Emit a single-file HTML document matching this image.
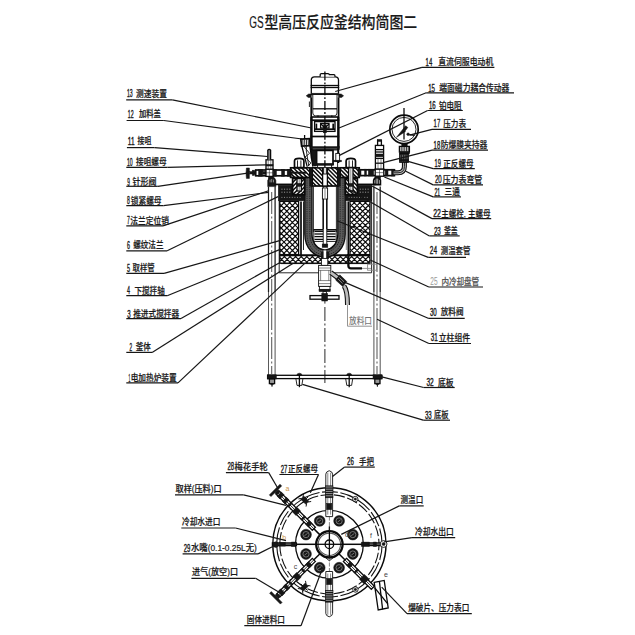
<!DOCTYPE html>
<html lang="zh-CN">
<head>
<meta charset="utf-8">
<title>GS型高压反应釜结构简图二</title>
<style>
html,body{margin:0;padding:0;background:#fff;}
body{width:635px;height:635px;overflow:hidden;}
svg{display:block;}
text{font-family:"Liberation Sans","Noto Sans CJK SC",sans-serif;fill:#222;font-weight:500;}
.tt{fill:#1a1a1a;stroke:#1a1a1a;stroke-width:.18;}
.tx{fill:#1a1a1a;stroke:#1a1a1a;stroke-width:.22;}
.tn{fill:#1a1a1a;stroke:#1a1a1a;stroke-width:.4;}
.sm{fill:#c9934a;}
.sm2{fill:#444;}
.l{stroke:#111;stroke-width:.9;fill:none;}
.t{stroke:#222;stroke-width:.55;fill:none;}
.b{stroke:#0a0a0a;stroke-width:1.3;fill:none;}
.bb{stroke:#0a0a0a;stroke-width:1.7;fill:none;}
.b3{stroke:#0a0a0a;stroke-width:2.1;fill:none;}
.b4{stroke:#0a0a0a;stroke-width:2.3;fill:none;}
.b2{stroke:#0a0a0a;stroke-width:1.5;fill:none;}
.k{stroke:#111;stroke-width:.5;fill:#161616;}
.g{stroke:#9a9a9a;stroke-width:.7;fill:none;}
.g2{stroke:#555;stroke-width:1.1;fill:none;}
.l2{stroke:#111;stroke-width:1.1;fill:none;}
.w{stroke:#eee;stroke-width:.6;fill:none;}
.h{stroke:#0c0c0c;stroke-width:1.5;fill:none;}
.xh{stroke:#0c0c0c;stroke-width:1.2;fill:none;}
.p{stroke:#5a5a5a;stroke-width:1.05;fill:none;}
.pd{stroke:#1c1c1c;stroke-width:1.25;fill:none;}
.ld{stroke:#161616;stroke-width:1.2;fill:none;}
.ldg{stroke:#888;stroke-width:.9;fill:none;}
.vw{stroke:#5a5a5a;stroke-width:7.2;fill:none;stroke-linecap:butt;}
.vwd{stroke:#222;stroke-width:.9;fill:none;stroke-dasharray:1.3 .9;}
.vwl{stroke:#8a8a8a;stroke-width:.7;fill:none;stroke-dasharray:1.2 1;}
.w2{stroke:#bbb;stroke-width:.7;fill:none;}
.w3{stroke:none;fill:#fff;}
.pipeo{stroke:#111;stroke-width:5;fill:none;}
.pipei{stroke:#bdbdbd;stroke-width:2.8;fill:none;}
</style>
</head>
<body>
<svg width="635" height="635" viewBox="0 0 635 635">
<rect x="0" y="0" width="635" height="635" fill="#fff"/>
<text class="tt" x="249.2" y="28.4" font-size="16" textLength="14.4" lengthAdjust="spacingAndGlyphs" >GS</text>
<text class="tt" x="264.4" y="28.4" font-size="16" textLength="152.8" lengthAdjust="spacingAndGlyphs" >型高压反应釜结构简图二</text>
<line class="pd" x1="268.5" y1="186.5" x2="268.5" y2="292.0" />
<line class="pd" x1="275.1" y1="186.5" x2="275.1" y2="292.0" />
<line class="p" x1="268.5" y1="292.0" x2="268.5" y2="375.2" />
<line class="p" x1="275.1" y1="292.0" x2="275.1" y2="375.2" />
<line class="p" x1="271.7" y1="192.0" x2="271.7" y2="374.0" stroke-dasharray="22 2.5 2 2.5"/>
<path class="k" d="M267.7 186.6 L267.7 180.6 Q268.5 177 271.7 176.8 Q275.1 177 275.90000000000003 180.6 L275.90000000000003 186.6 Z" />
<line class="w2" x1="270.1" y1="179.6" x2="270.1" y2="182.4" />
<line class="w2" x1="271.7" y1="179.0" x2="271.7" y2="182.4" />
<line class="w2" x1="273.5" y1="179.6" x2="273.5" y2="182.4" />
<line class="pd" x1="373.9" y1="186.5" x2="373.9" y2="292.0" />
<line class="pd" x1="380.2" y1="186.5" x2="380.2" y2="292.0" />
<line class="p" x1="373.9" y1="292.0" x2="373.9" y2="375.2" />
<line class="p" x1="380.2" y1="292.0" x2="380.2" y2="375.2" />
<line class="p" x1="377.0" y1="192.0" x2="377.0" y2="374.0" stroke-dasharray="22 2.5 2 2.5"/>
<path class="bb" d="M373.7 184.6 L373.7 180.4 Q374.29999999999995 177.6 377.0 177.4 Q379.8 177.6 380.4 180.4 L380.4 184.6 Z" style="fill:#fff"/>
<line class="b" x1="375.9" y1="179.0" x2="375.9" y2="184.4" />
<line class="b" x1="378.2" y1="179.0" x2="378.2" y2="184.4" />
<rect class="k" x="375.5" y="176.4" width="3.1" height="1.8" />
<rect class="b" x="267.6" y="375.3" width="114.4" height="3.3" style="fill:#fff"/>
<rect class="k" x="267.6" y="374.8" width="8.8" height="4.2" />
<rect class="b" x="269.4" y="379.0" width="5.2" height="4.6" style="fill:#999"/>
<path class="k" d="M269.8 383.6 L272 385.4 L274.2 383.6 Z" />
<line class="l" x1="272.0" y1="385.0" x2="272.0" y2="386.8" />
<rect class="k" x="373.0" y="374.8" width="8.8" height="4.2" />
<rect class="b" x="374.8" y="379.0" width="5.2" height="4.6" style="fill:#999"/>
<path class="k" d="M375.2 383.6 L377.4 385.4 L379.59999999999997 383.6 Z" />
<line class="l" x1="377.4" y1="385.0" x2="377.4" y2="386.8" />
<path class="l" d="M295.9 378.8 L297.0 385.4 L301.79999999999995 385.4 L302.9 378.8" />
<path class="k" d="M296.79999999999995 375.2 Q297.0 373.2 299.4 373.2 Q301.79999999999995 373.2 302.0 375.2 Z" />
<line class="b" x1="299.4" y1="375.0" x2="299.4" y2="387.2" />
<path class="l" d="M345.7 378.8 L346.8 385.4 L351.59999999999997 385.4 L352.7 378.8" />
<path class="k" d="M346.59999999999997 375.2 Q346.8 373.2 349.2 373.2 Q351.59999999999997 373.2 351.8 375.2 Z" />
<line class="b" x1="349.2" y1="375.0" x2="349.2" y2="387.2" />
<path class="l" d="M279.2 186 L279.2 272.8 L371.6 272.8 L371.6 186" />
<line class="l" x1="280.8" y1="263.6" x2="370.0" y2="263.6" />
<line class="bb" x1="274.5" y1="184.4" x2="304.6" y2="184.4" />
<line class="bb" x1="345.6" y1="184.4" x2="375.6" y2="184.4" />
<rect class="k" x="278.4" y="185.2" width="26.2" height="15.6" />
<line class="w" x1="281.4" y1="189.2" x2="290.4" y2="189.2" stroke-dasharray="1.1 1.5"/>
<line class="w" x1="281.4" y1="192.2" x2="290.4" y2="192.2" stroke-dasharray="1.1 1.5"/>
<line class="w2" x1="281.4" y1="197.4" x2="301.6" y2="197.4" stroke-dasharray="1 1.6"/>
<rect class="k" x="345.6" y="185.2" width="26.2" height="15.6" />
<line class="w" x1="359.8" y1="189.2" x2="368.8" y2="189.2" stroke-dasharray="1.1 1.5"/>
<line class="w" x1="359.8" y1="192.2" x2="368.8" y2="192.2" stroke-dasharray="1.1 1.5"/>
<line class="w2" x1="348.6" y1="197.4" x2="368.8" y2="197.4" stroke-dasharray="1 1.6"/>
<clipPath id="c1"><rect x="279.8" y="201.4" width="18.8" height="53.2"/></clipPath>
<g clip-path="url(#c1)">
<path class="xh" d="M226.6 254.6L279.8 201.4M226.6 201.4L279.8 254.6M232.2 254.6L285.4 201.4M232.2 201.4L285.4 254.6M237.8 254.6L291.0 201.4M237.8 201.4L291.0 254.6M243.4 254.6L296.6 201.4M243.4 201.4L296.6 254.6M249.0 254.6L302.2 201.4M249.0 201.4L302.2 254.6M254.6 254.6L307.8 201.4M254.6 201.4L307.8 254.6M260.2 254.6L313.4 201.4M260.2 201.4L313.4 254.6M265.8 254.6L319.0 201.4M265.8 201.4L319.0 254.6M271.4 254.6L324.6 201.4M271.4 201.4L324.6 254.6M277.0 254.6L330.2 201.4M277.0 201.4L330.2 254.6M282.6 254.6L335.8 201.4M282.6 201.4L335.8 254.6M288.2 254.6L341.4 201.4M288.2 201.4L341.4 254.6M293.8 254.6L347.0 201.4M293.8 201.4L347.0 254.6M299.4 254.6L352.6 201.4M299.4 201.4L352.6 254.6"/>
</g>
<rect class="b" x="279.8" y="201.4" width="18.8" height="53.2" />
<clipPath id="c2"><rect x="350.0" y="201.4" width="20.0" height="53.2"/></clipPath>
<g clip-path="url(#c2)">
<path class="xh" d="M296.8 254.6L350.0 201.4M296.8 201.4L350.0 254.6M302.4 254.6L355.6 201.4M302.4 201.4L355.6 254.6M308.0 254.6L361.2 201.4M308.0 201.4L361.2 254.6M313.6 254.6L366.8 201.4M313.6 201.4L366.8 254.6M319.2 254.6L372.4 201.4M319.2 201.4L372.4 254.6M324.8 254.6L378.0 201.4M324.8 201.4L378.0 254.6M330.4 254.6L383.6 201.4M330.4 201.4L383.6 254.6M336.0 254.6L389.2 201.4M336.0 201.4L389.2 254.6M341.6 254.6L394.8 201.4M341.6 201.4L394.8 254.6M347.2 254.6L400.4 201.4M347.2 201.4L400.4 254.6M352.8 254.6L406.0 201.4M352.8 201.4L406.0 254.6M358.4 254.6L411.6 201.4M358.4 201.4L411.6 254.6M364.0 254.6L417.2 201.4M364.0 201.4L417.2 254.6M369.6 254.6L422.8 201.4M369.6 201.4L422.8 254.6M375.2 254.6L428.4 201.4M375.2 201.4L428.4 254.6"/>
</g>
<rect class="b" x="350.0" y="201.4" width="20.0" height="53.2" />
<clipPath id="c3"><rect x="279.8" y="255.6" width="90.2" height="7.6"/></clipPath>
<g clip-path="url(#c3)">
<path class="xh" d="M272.2 263.2L279.8 255.6M272.2 255.6L279.8 263.2M277.8 263.2L285.4 255.6M277.8 255.6L285.4 263.2M283.4 263.2L291.0 255.6M283.4 255.6L291.0 263.2M289.0 263.2L296.6 255.6M289.0 255.6L296.6 263.2M294.6 263.2L302.2 255.6M294.6 255.6L302.2 263.2M300.2 263.2L307.8 255.6M300.2 255.6L307.8 263.2M305.8 263.2L313.4 255.6M305.8 255.6L313.4 263.2M311.4 263.2L319.0 255.6M311.4 255.6L319.0 263.2M317.0 263.2L324.6 255.6M317.0 255.6L324.6 263.2M322.6 263.2L330.2 255.6M322.6 255.6L330.2 263.2M328.2 263.2L335.8 255.6M328.2 255.6L335.8 263.2M333.8 263.2L341.4 255.6M333.8 255.6L341.4 263.2M339.4 263.2L347.0 255.6M339.4 255.6L347.0 263.2M345.0 263.2L352.6 255.6M345.0 255.6L352.6 263.2M350.6 263.2L358.2 255.6M350.6 255.6L358.2 263.2M356.2 263.2L363.8 255.6M356.2 255.6L363.8 263.2M361.8 263.2L369.4 255.6M361.8 255.6L369.4 263.2M367.4 263.2L375.0 255.6M367.4 255.6L375.0 263.2M373.0 263.2L380.6 255.6M373.0 255.6L380.6 263.2"/>
</g>
<rect class="b" x="279.8" y="255.6" width="90.2" height="7.6" />
<line class="bb" x1="279.8" y1="255.1" x2="370.0" y2="255.1" />
<line class="bb" x1="301.0" y1="201.4" x2="301.0" y2="255.0" />
<line class="l" x1="303.5" y1="201.4" x2="303.5" y2="250.0" />
<line class="bb" x1="348.3" y1="201.4" x2="348.3" y2="255.0" />
<line class="t" x1="346.3" y1="201.4" x2="346.3" y2="250.0" />
<path class="vw" d="M308.4 177.4 L308.4 234 C308.4 245.5 315.8 253.4 325 253.4 C334.2 253.4 341.6 245.5 341.6 234 L341.6 177.4" />
<path class="b" d="M304.8 177.4 L304.8 234 C304.8 248 313.8 257 325 257 C336.2 257 345.2 248 345.2 234 L345.2 177.4" />
<path class="b" d="M312 177.4 L312 234 C312 243 317.8 249.8 325 249.8 C332.2 249.8 337.8 243 337.8 234 L337.8 177.4" />
<path class="vwd" d="M307 178 L307 234 C307 246.5 315 254.8 325 254.8 C335 254.8 343 246.5 343 234 L343 178" />
<path class="vwd" d="M309.8 178 L309.8 234 C309.8 244.5 316.6 252 325 252 C333.4 252 340.2 244.5 340.2 234 L340.2 178" />
<rect class="k" x="321.2" y="252.0" width="7.6" height="6.6" />
<rect class="w3" x="323.6" y="249.6" width="2.6" height="9.2" />
<path class="l" d="M313.4 186.4 L313.4 232 M336.4 186.4 L336.4 232" />
<path class="l" d="M313.6 240.5 Q314.5 249.6 325 250 Q335.5 249.6 336.4 240.5" />
<rect class="l" x="313.8" y="229.6" width="22.4" height="11.8" />
<line class="b" x1="314.5" y1="231.4" x2="335.6" y2="231.4" />
<line class="b" x1="314.5" y1="234.0" x2="335.6" y2="234.0" />
<line class="b" x1="314.5" y1="236.6" x2="335.6" y2="236.6" />
<line class="b" x1="314.5" y1="239.4" x2="335.6" y2="239.4" />
<line class="b" x1="313.8" y1="229.8" x2="336.2" y2="229.8" />
<rect class="l" x="323.2" y="163.4" width="3.6" height="82.6" style="fill:#fff"/>
<rect class="l" x="322.4" y="188.0" width="5.2" height="11.0" style="fill:#fff"/>
<line class="t" x1="325.0" y1="189.0" x2="325.0" y2="198.0" />
<line class="b" x1="323.2" y1="199.0" x2="323.2" y2="229.0" />
<line class="b" x1="326.8" y1="199.0" x2="326.8" y2="229.0" />
<rect class="k" x="322.2" y="244.0" width="5.6" height="3.4" />
<clipPath id="c4"><rect x="290.6" y="167.8" width="19.2" height="9.6"/></clipPath>
<g clip-path="url(#c4)">
<path class="h" d="M281.0 167.8L290.6 177.4M285.1 167.8L294.7 177.4M289.2 167.8L298.8 177.4M293.3 167.8L302.9 177.4M297.4 167.8L307.0 177.4M301.5 167.8L311.1 177.4M305.6 167.8L315.2 177.4M309.7 167.8L319.3 177.4M313.8 167.8L323.4 177.4"/>
</g>
<rect class="bb" x="290.6" y="167.8" width="19.2" height="9.6" />
<clipPath id="c5"><rect x="340.2" y="167.8" width="19.0" height="9.6"/></clipPath>
<g clip-path="url(#c5)">
<path class="h" d="M330.6 167.8L340.2 177.4M334.7 167.8L344.3 177.4M338.8 167.8L348.4 177.4M342.9 167.8L352.5 177.4M347.0 167.8L356.6 177.4M351.1 167.8L360.7 177.4M355.2 167.8L364.8 177.4M359.3 167.8L368.9 177.4"/>
</g>
<rect class="bb" x="340.2" y="167.8" width="19.0" height="9.6" />
<clipPath id="c6"><rect x="312.2" y="167.8" width="25.6" height="18.2"/></clipPath>
<g clip-path="url(#c6)">
<path class="h" d="M294.0 167.8L312.2 186.0M298.1 167.8L316.3 186.0M302.2 167.8L320.4 186.0M306.3 167.8L324.5 186.0M310.4 167.8L328.6 186.0M314.5 167.8L332.7 186.0M318.6 167.8L336.8 186.0M322.7 167.8L340.9 186.0M326.8 167.8L345.0 186.0M330.9 167.8L349.1 186.0M335.0 167.8L353.2 186.0M339.1 167.8L357.3 186.0"/>
</g>
<rect class="bb" x="312.2" y="167.8" width="25.6" height="18.2" />
<rect class="k" x="309.8" y="167.4" width="2.4" height="18.8" />
<rect class="k" x="337.8" y="167.4" width="2.4" height="18.8" />
<rect class="k" x="290.6" y="172.0" width="15.8" height="1.4" />
<rect class="b" x="322.6" y="167.8" width="4.8" height="18.2" style="fill:#fff"/>
<rect class="l" x="323.4" y="167.0" width="3.2" height="7.0" style="fill:#ddd"/>
<clipPath id="c7"><rect x="292.6" y="178.4" width="12.0" height="16.2"/></clipPath>
<rect x="292.6" y="178.4" width="12.0" height="16.2" fill="#fff"/>
<g clip-path="url(#c7)">
<path class="h" d="M276.4 194.6L292.6 178.4M280.5 194.6L296.7 178.4M284.6 194.6L300.8 178.4M288.7 194.6L304.9 178.4M292.8 194.6L309.0 178.4M296.9 194.6L313.1 178.4M301.0 194.6L317.2 178.4M305.1 194.6L321.3 178.4"/>
</g>
<rect class="bb" x="292.6" y="178.4" width="12.0" height="16.2" />
<clipPath id="c8"><rect x="345.4" y="178.4" width="12.0" height="16.2"/></clipPath>
<rect x="345.4" y="178.4" width="12.0" height="16.2" fill="#fff"/>
<g clip-path="url(#c8)">
<path class="h" d="M329.2 178.4L345.4 194.6M333.3 178.4L349.5 194.6M337.4 178.4L353.6 194.6M341.5 178.4L357.7 194.6M345.6 178.4L361.8 194.6M349.7 178.4L365.9 194.6M353.8 178.4L370.0 194.6M357.9 178.4L374.1 194.6"/>
</g>
<rect class="bb" x="345.4" y="178.4" width="12.0" height="16.2" />
<path class="bb" d="M294.5 167.6 L294.5 161 Q294.5 158.4 299.2 158.4 Q303.9 158.4 303.9 161 L303.9 167.6 Z" style="fill:#fff"/>
<line class="l" x1="297.5" y1="160.4" x2="297.5" y2="167.4" />
<line class="l" x1="300.9" y1="160.4" x2="300.9" y2="167.4" />
<rect class="b" x="297.0" y="178.6" width="4.4" height="12.4" style="fill:#fff"/>
<rect class="k" x="296.8" y="183.4" width="4.8" height="3.0" />
<line class="t" x1="299.2" y1="179.6" x2="299.2" y2="190.0" />
<path class="bb" d="M346.1 167.6 L346.1 161 Q346.1 158.4 350.8 158.4 Q355.5 158.4 355.5 161 L355.5 167.6 Z" style="fill:#fff"/>
<line class="l" x1="349.1" y1="160.4" x2="349.1" y2="167.4" />
<line class="l" x1="352.5" y1="160.4" x2="352.5" y2="167.4" />
<rect class="b" x="348.6" y="167.8" width="4.4" height="23.2" style="fill:#fff"/>
<rect class="k" x="348.4" y="183.4" width="4.8" height="3.0" />
<line class="t" x1="350.8" y1="168.8" x2="350.8" y2="190.0" />
<rect class="l" x="317.6" y="164.0" width="14.0" height="3.6" style="fill:#fff"/>
<rect class="bb" x="316.6" y="150.4" width="16.4" height="14.0" style="fill:#fff"/>
<rect class="k" x="316.2" y="163.6" width="17.2" height="1.6" />
<path class="k" d="M311 150 L316.4 150 L316.4 166 L313.4 166 L311 158 Z" />
<rect class="l" x="311.2" y="117.0" width="27.4" height="30.4" style="fill:#fff"/>
<line class="bb" x1="311.2" y1="97.4" x2="311.2" y2="150.0" />
<line class="b3" x1="311.6" y1="117.0" x2="311.6" y2="150.0" />
<line class="bb" x1="338.6" y1="97.4" x2="338.6" y2="150.0" />
<line class="b3" x1="338.2" y1="117.0" x2="338.2" y2="163.0" />
<line class="bb" x1="310.6" y1="120.2" x2="339.2" y2="120.2" />
<line class="bb" x1="310.6" y1="136.5" x2="339.2" y2="136.5" />
<rect class="k" x="310.6" y="146.6" width="28.6" height="2.0" />
<line class="b" x1="312.0" y1="149.8" x2="338.0" y2="149.8" />
<rect class="b" x="314.6" y="121.6" width="20.4" height="9.8" />
<line class="bb" x1="314.6" y1="129.2" x2="335.0" y2="129.2" />
<rect class="b" x="320.6" y="123.4" width="8.4" height="4.6" />
<rect class="k" x="323.4" y="124.8" width="3.0" height="8.0" />
<path class="b" d="M321 124 L324.9 128 L329 124" />
<line class="bb" x1="316.4" y1="123.6" x2="316.4" y2="129.0" />
<line class="bb" x1="333.2" y1="123.6" x2="333.2" y2="129.0" />
<path class="b" d="M311.3 93.3 L311.3 80 Q311.3 76.8 314.5 76.8 L335.3 76.8 Q338.5 76.8 338.5 80 L338.5 93.3" style="fill:#fff"/>
<path class="b" d="M320.2 76.8 L320.2 74.6 Q320.2 73.6 321.4 73.6 L328 73.6 Q329.2 73.6 329.4 74.6 L334 74.6 Q334.9 74.6 334.9 75.6 L334.9 76.8" style="fill:#fff"/>
<line class="b" x1="310.6" y1="85.5" x2="339.2" y2="85.5" />
<line class="b" x1="310.6" y1="87.5" x2="339.2" y2="87.5" />
<rect class="k" x="311.0" y="93.2" width="27.8" height="1.8" />
<path class="k" d="M306.2 95.8 L308.6 94 L311.3 94 L311.3 97.4 L308.2 97.4 Z" />
<path class="k" d="M343.6 95.8 L341.2 94 L338.5 94 L338.5 97.4 L341.6 97.4 Z" />
<path class="l" d="M312.8 95 L312.8 113 Q312.8 115.8 315.6 115.8 L334.2 115.8 Q337 115.8 337 113 L337 95" style="fill:#fff"/>
<line class="b" x1="312.8" y1="108.8" x2="337.0" y2="108.8" />
<line class="b" x1="311.2" y1="117.0" x2="338.6" y2="117.0" />
<line class="b" x1="318.0" y1="115.6" x2="318.0" y2="117.0" />
<line class="b" x1="331.8" y1="115.6" x2="331.8" y2="117.0" />
<line class="l" x1="309.4" y1="101.5" x2="309.4" y2="107.0" />
<line class="b" x1="324.9" y1="71.5" x2="324.9" y2="167.0" stroke-dasharray="9 2 1.8 2"/>
<path class="bb" d="M300.8 139.2 L309.8 138.6 L310 145.6 L301.6 146.2 Z" style="fill:#fff"/>
<line class="l" x1="302.8" y1="139.4" x2="303.0" y2="145.6" />
<line class="l" x1="304.6" y1="139.4" x2="304.8" y2="145.6" />
<line class="l" x1="306.4" y1="139.4" x2="306.6" y2="145.6" />
<line class="l" x1="308.2" y1="139.4" x2="308.4" y2="145.6" />
<line class="b" x1="304.6" y1="135.0" x2="304.6" y2="139.0" />
<path class="b" d="M301.8 146 L307.2 166.6 M309.8 145.6 L312.8 166.6" />
<path class="l" d="M304 146.4 L309.6 153.4 L305 157 L310.8 163 L307.8 166.4" />
<path class="l" d="M306.4 146 L306.2 150 L308.8 166" />
<rect class="l" x="335.8" y="153.4" width="3.8" height="8.0" style="fill:#fff"/>
<rect class="k" x="333.4" y="160.2" width="8.0" height="1.6" />
<line class="l" x1="337.6" y1="161.8" x2="337.6" y2="186.0" />
<rect class="bb" x="255.7" y="170.0" width="34.7" height="5.8" style="fill:#fff"/>
<rect class="k" x="258.6" y="169.4" width="3.8" height="6.8" />
<rect class="k" x="273.6" y="169.4" width="2.8" height="6.8" />
<rect class="k" x="281.6" y="169.4" width="3.0" height="6.8" />
<rect class="k" x="287.2" y="169.4" width="3.2" height="6.8" />
<rect class="k" x="262.4" y="171.4" width="3.6" height="2.8" />
<rect class="b" x="266.0" y="169.2" width="7.0" height="7.2" style="fill:#fff"/>
<line class="t" x1="269.4" y1="169.2" x2="269.4" y2="176.4" />
<line class="t" x1="266.0" y1="172.8" x2="273.0" y2="172.8" />
<rect class="b" x="266.0" y="159.8" width="7.0" height="9.4" style="fill:#fff"/>
<line class="t" x1="268.2" y1="159.8" x2="268.2" y2="169.2" />
<line class="t" x1="270.8" y1="159.8" x2="270.8" y2="169.2" />
<rect class="k" x="266.0" y="164.4" width="7.0" height="1.6" />
<path class="b" d="M267.8 159.8 L267.8 150.2 Q269.2 148.4 270.6 150.2 L270.6 159.8" style="fill:#888"/>
<rect class="k" x="268.4" y="176.4" width="2.2" height="2.2" />
<rect class="k" x="249.6" y="171.6" width="6.1" height="2.4" />
<rect class="k" x="252.4" y="170.2" width="2.2" height="5.2" />
<path class="k" d="M246.4 168 L249.4 168 L249.4 178.4 L246.4 178.4 Q245.6 173.2 246.4 168 Z" />
<rect class="bb" x="358.6" y="169.8" width="35.8" height="5.8" style="fill:#fff"/>
<rect class="k" x="358.6" y="169.2" width="2.4" height="6.8" />
<rect class="k" x="364.6" y="169.2" width="1.8" height="6.8" />
<rect class="k" x="368.4" y="169.2" width="5.2" height="6.8" />
<rect class="k" x="385.2" y="169.2" width="2.8" height="6.8" />
<rect class="k" x="391.6" y="169.2" width="2.8" height="6.8" />
<rect class="b" x="375.2" y="169.0" width="8.6" height="7.2" style="fill:#fff"/>
<line class="t" x1="379.5" y1="169.0" x2="379.5" y2="176.2" />
<line class="t" x1="375.2" y1="172.6" x2="383.8" y2="172.6" />
<rect class="k" x="378.4" y="176.2" width="2.2" height="2.2" />
<rect class="b" x="375.4" y="145.4" width="8.2" height="23.6" style="fill:#fff"/>
<rect class="b" x="377.6" y="140.4" width="3.8" height="5.0" style="fill:#fff"/>
<rect class="k" x="377.4" y="139.6" width="4.2" height="1.8" />
<line class="b" x1="375.4" y1="149.6" x2="383.6" y2="149.6" />
<line class="b" x1="375.4" y1="152.0" x2="383.6" y2="152.0" />
<line class="b" x1="375.4" y1="158.4" x2="383.6" y2="158.4" />
<line class="b" x1="375.4" y1="163.2" x2="383.6" y2="163.2" />
<rect class="k" x="375.4" y="154.0" width="8.2" height="2.8" />
<line class="t" x1="378.0" y1="158.4" x2="378.0" y2="169.0" />
<line class="t" x1="381.0" y1="158.4" x2="381.0" y2="169.0" />
<path class="pipeo" d="M393.6 172.8 L398 172.8 Q404.4 172.8 404.4 166.6 L404.4 161.8" />
<path class="pipei" d="M393.6 172.8 L398 172.8 Q404.4 172.8 404.4 166.6 L404.4 161.8" />
<path class="l" d="M393.6 172.8 L398 172.8 Q404.4 172.8 404.4 166.6 L404.4 161.8" />
<rect class="k" x="401.8" y="144.0" width="5.4" height="2.4" />
<rect class="b" x="399.4" y="146.4" width="10.0" height="5.6" style="fill:#fff"/>
<line class="l" x1="401.2" y1="146.8" x2="401.2" y2="151.6" />
<line class="l" x1="403.0" y1="146.8" x2="403.0" y2="151.6" />
<line class="l" x1="404.8" y1="146.8" x2="404.8" y2="151.6" />
<line class="l" x1="406.6" y1="146.8" x2="406.6" y2="151.6" />
<line class="l" x1="408.2" y1="146.8" x2="408.2" y2="151.6" />
<rect class="k" x="399.4" y="151.8" width="10.0" height="2.2" />
<rect class="b" x="399.8" y="154.0" width="8.4" height="8.2" style="fill:#777"/>
<line class="l" x1="401.6" y1="154.4" x2="401.6" y2="161.8" />
<line class="l" x1="403.4" y1="154.4" x2="403.4" y2="161.8" />
<line class="l" x1="405.2" y1="154.4" x2="405.2" y2="161.8" />
<line class="l" x1="406.8" y1="154.4" x2="406.8" y2="161.8" />
<rect class="k" x="399.8" y="159.4" width="8.4" height="1.6" />
<circle class="bb" cx="404.0" cy="129.4" r="14.2" />
<circle class="l" cx="404.0" cy="129.4" r="12.0" />
<line class="b" x1="404.0" y1="108.0" x2="404.0" y2="139.4" />
<path class="k" d="M396.4 137.4 L405.6 125.8 L407.8 127.4 L404 132.4 Z" />
<circle class="k" cx="408.1" cy="134.2" r="1.3" />
<line class="b" x1="409.4" y1="134.6" x2="414.6" y2="135.4" />
<line class="l" x1="403.0" y1="131.6" x2="405.6" y2="131.6" />
<rect class="l" x="321.4" y="258.4" width="6.4" height="7.0" style="fill:#fff"/>
<rect class="l" x="318.6" y="265.4" width="12.2" height="21.0" style="fill:#fff"/>
<line class="t" x1="318.6" y1="268.0" x2="330.8" y2="268.0" />
<line class="t" x1="318.6" y1="270.4" x2="330.8" y2="270.4" />
<line class="t" x1="318.6" y1="280.6" x2="330.8" y2="280.6" />
<line class="t" x1="318.6" y1="283.6" x2="330.8" y2="283.6" />
<line class="t" x1="320.6" y1="270.4" x2="320.6" y2="280.6" />
<line class="t" x1="328.8" y1="270.4" x2="328.8" y2="280.6" />
<rect class="l" x="319.4" y="286.4" width="10.6" height="3.0" style="fill:#fff"/>
<rect class="k" x="319.0" y="289.4" width="11.4" height="2.2" />
<rect class="l" x="323.0" y="291.6" width="3.4" height="3.8" />
<rect class="b" x="310.0" y="295.6" width="29.0" height="3.6" style="fill:#fff"/>
<rect class="k" x="321.8" y="293.4" width="5.8" height="7.6" />
<line class="l" x1="324.9" y1="301.0" x2="324.9" y2="303.6" />
<line class="l" x1="324.9" y1="307.0" x2="324.9" y2="383.0" stroke-dasharray="14 2.5 2 2.5"/>
<path class="pipeo" d="M330.8 272.6 L338.4 278.2" />
<path class="pipei" d="M330.8 272.6 L338.4 278.2" />
<path class="pipeo" d="M344 286 Q347.5 290.5 347.5 305" />
<path class="pipei" d="M344 286 Q347.5 290.5 347.5 305" />
<path class="k" d="M339.8 274.8 L346.8 281.6 L342.8 286.6 L335.6 280 Z" />
<path class="w2" d="M339.4 277.4 L344 281.8 M338 279 L342.6 283.4" />
<line class="ldg" x1="347.5" y1="305.0" x2="347.5" y2="326.2" />
<line class="ldg" x1="347.5" y1="326.2" x2="372.0" y2="326.2" />
<text class="tx" x="349.0" y="324.4" font-size="9" textLength="23.0" lengthAdjust="spacingAndGlyphs" style="fill:#777;stroke:none">放料口</text>
<path class="b4" d="M348.4 254 L348.4 266 Q348.6 268.4 351 268.4 L362 268.4" />
<path class="ldg" d="M362 268.4 L371 268.4" />
<rect class="ldg" x="367.6" y="264.2" width="9.0" height="6.0" />
<circle class="b2" cx="329.4" cy="544.3" r="56.6" />
<circle class="l2" cx="329.4" cy="544.3" r="52.7" stroke-dasharray="16 2.5"/>
<circle class="l2" cx="329.4" cy="544.3" r="49.6" stroke-dasharray="11 2.5" stroke-dashoffset="5"/>
<circle class="b" cx="329.4" cy="544.3" r="33.9" />
<line class="b2" x1="342.4" y1="544.3" x2="363.4" y2="544.3" />
<line class="b2" x1="316.4" y1="544.3" x2="295.4" y2="544.3" />
<line class="b2" x1="320.2" y1="535.1" x2="305.4" y2="520.3" />
<line class="b2" x1="320.2" y1="553.5" x2="305.4" y2="568.3" />
<line class="b2" x1="338.6" y1="553.5" x2="353.4" y2="568.3" />
<path class="b" d="M312.3 530.3 L276.2 494.2 L279.3 491.1 L315.4 527.2 Z" style="fill:#fff"/>
<line class="l" x1="313.8" y1="528.7" x2="277.8" y2="492.7" />
<path class="k" d="M308.5 527.0 L305.6 524.2 L309.3 520.5 L312.1 523.4 Z" />
<path class="k" d="M302.2 520.6 L300.8 519.2 L304.3 515.7 L305.7 517.1 Z" />
<path class="k" d="M296.0 515.5 L292.1 511.6 L296.7 507.0 L300.6 510.9 Z" />
<path class="k" d="M288.7 507.2 L287.3 505.8 L290.9 502.2 L292.3 503.6 Z" />
<path class="k" d="M284.9 503.9 L282.4 501.4 L286.5 497.3 L289.0 499.8 Z" />
<path class="k" d="M279.9 499.0 L277.1 496.2 L281.3 492.0 L284.1 494.8 Z" />
<path class="k" d="M271.0 496.6 L269.3 494.9 L280.0 484.2 L281.7 485.9 Z" />
<path class="k" d="M276.8 495.1 L274.7 493.0 L278.1 489.6 L280.2 491.7 Z" />
<path class="b" d="M315.4 561.4 L280.0 596.8 L276.9 593.7 L312.3 558.3 Z" style="fill:#fff"/>
<line class="l" x1="313.8" y1="559.9" x2="278.5" y2="595.2" />
<path class="k" d="M312.1 565.2 L309.3 568.1 L305.6 564.4 L308.5 561.6 Z" />
<path class="k" d="M305.7 571.5 L304.3 572.9 L300.8 569.4 L302.2 568.0 Z" />
<path class="k" d="M301.3 577.0 L297.4 580.9 L292.8 576.3 L296.7 572.4 Z" />
<path class="k" d="M293.0 584.3 L291.6 585.7 L288.0 582.1 L289.4 580.7 Z" />
<path class="k" d="M289.7 588.1 L287.3 590.5 L283.2 586.4 L285.6 584.0 Z" />
<path class="k" d="M284.9 593.1 L282.0 595.9 L277.8 591.7 L280.6 588.8 Z" />
<path class="k" d="M282.1 602.4 L280.4 604.1 L269.6 593.3 L271.3 591.6 Z" />
<path class="k" d="M280.5 596.6 L278.4 598.7 L275.0 595.3 L277.1 593.2 Z" />
<path class="b" d="M346.5 558.3 L374.4 586.2 L371.3 589.3 L343.4 561.4 Z" style="fill:#fff"/>
<line class="l" x1="345.0" y1="559.9" x2="372.9" y2="587.8" />
<path class="k" d="M350.3 561.6 L353.2 564.4 L349.5 568.1 L346.7 565.2 Z" />
<path class="k" d="M357.3 568.7 L358.7 570.1 L355.2 573.6 L353.8 572.2 Z" />
<path class="k" d="M364.4 574.4 L369.0 578.9 L364.0 583.9 L359.5 579.3 Z" />
<path class="b" d="M296.4 545.6 L272.4 545.6 L272.4 543.0 L296.4 543.0 Z" style="fill:#fff"/>
<line class="l" x1="296.4" y1="544.3" x2="272.4" y2="544.3" />
<path class="k" d="M295.4 546.5 L291.4 546.5 L291.4 542.1 L295.4 542.1 Z" />
<path class="k" d="M285.4 546.1 L279.4 546.1 L279.4 542.5 L285.4 542.5 Z" />
<circle class="k" cx="275.8" cy="544.6" r="2.8" />
<path class="b" d="M362.4 543.0 L385.4 543.0 L385.4 545.6 L362.4 545.6 Z" style="fill:#fff"/>
<line class="l" x1="362.4" y1="544.3" x2="385.4" y2="544.3" />
<path class="k" d="M361.4 542.2 L369.4 542.2 L369.4 546.4 L361.4 546.4 Z" />
<path class="k" d="M373.4 542.1 L376.4 542.1 L376.4 546.5 L373.4 546.5 Z" />
<circle class="l" cx="383.6" cy="544.0" r="3.4" style="fill:#fff"/>
<circle class="k" cx="383.6" cy="544.0" r="1.6" />
<circle class="k" cx="352.8" cy="554.0" r="5.4" />
<circle class="g" cx="352.8" cy="554.0" r="3.1" />
<line class="g" x1="351.2" y1="555.2" x2="354.4" y2="552.8" />
<circle class="k" cx="339.1" cy="567.7" r="5.4" />
<circle class="g" cx="339.1" cy="567.7" r="3.1" />
<line class="g" x1="337.5" y1="568.9" x2="340.7" y2="566.5" />
<circle class="k" cx="319.7" cy="567.7" r="5.4" />
<circle class="g" cx="319.7" cy="567.7" r="3.1" />
<line class="g" x1="318.1" y1="568.9" x2="321.3" y2="566.5" />
<circle class="k" cx="306.0" cy="554.0" r="5.4" />
<circle class="g" cx="306.0" cy="554.0" r="3.1" />
<line class="g" x1="304.4" y1="555.2" x2="307.6" y2="552.8" />
<circle class="k" cx="306.0" cy="534.6" r="5.4" />
<circle class="g" cx="306.0" cy="534.6" r="3.1" />
<line class="g" x1="304.4" y1="535.8" x2="307.6" y2="533.4" />
<circle class="k" cx="319.7" cy="520.9" r="5.4" />
<circle class="g" cx="319.7" cy="520.9" r="3.1" />
<line class="g" x1="318.1" y1="522.1" x2="321.3" y2="519.7" />
<circle class="k" cx="339.1" cy="520.9" r="5.4" />
<circle class="g" cx="339.1" cy="520.9" r="3.1" />
<line class="g" x1="337.5" y1="522.1" x2="340.7" y2="519.7" />
<circle class="k" cx="352.8" cy="534.6" r="5.4" />
<circle class="g" cx="352.8" cy="534.6" r="3.1" />
<line class="g" x1="351.2" y1="535.8" x2="354.4" y2="533.4" />
<circle class="b4" cx="329.4" cy="544.3" r="13.2" style="fill:#fff"/>
<circle class="g2" cx="329.4" cy="544.3" r="11.2" />
<circle class="b" cx="329.4" cy="544.3" r="4.3" />
<line class="b" x1="316.4" y1="544.3" x2="342.4" y2="544.3" />
<line class="b" x1="329.4" y1="526.3" x2="329.4" y2="557.3" />
<path class="l" d="M325.4 557.5 L329.4 560.8 L333.4 557.5" />
<path class="l" d="M325.8 516.6 L325.8 474.09999999999997 Q325.8 471.7 329.20000000000005 470.7 Q332.6 471.7 332.6 474.09999999999997 L332.6 516.6 Z" style="fill:#fff"/>
<line class="t" x1="327.8" y1="472.7" x2="327.8" y2="514.6" />
<line class="t" x1="330.6" y1="472.7" x2="330.6" y2="514.6" />
<rect class="k" x="325.4" y="485.8" width="7.6" height="12.0" />
<line class="w" x1="325.8" y1="487.0" x2="332.6" y2="487.0" />
<line class="w" x1="325.8" y1="489.2" x2="332.6" y2="489.2" />
<line class="w" x1="325.8" y1="491.4" x2="332.6" y2="491.4" />
<line class="w" x1="325.8" y1="493.6" x2="332.6" y2="493.6" />
<line class="w" x1="325.8" y1="495.8" x2="332.6" y2="495.8" />
<path class="l" d="M325.8 571.5 L325.8 613.4 Q325.8 615.8 329.20000000000005 616.8 Q332.6 615.8 332.6 613.4 L332.6 571.5 Z" style="fill:#fff"/>
<line class="t" x1="327.8" y1="573.5" x2="327.8" y2="614.8" />
<line class="t" x1="330.6" y1="573.5" x2="330.6" y2="614.8" />
<rect class="k" x="325.4" y="590.3" width="7.6" height="11.9" />
<line class="w" x1="325.8" y1="591.5" x2="332.6" y2="591.5" />
<line class="w" x1="325.8" y1="593.7" x2="332.6" y2="593.7" />
<line class="w" x1="325.8" y1="595.9" x2="332.6" y2="595.9" />
<line class="w" x1="325.8" y1="598.1" x2="332.6" y2="598.1" />
<line class="w" x1="325.8" y1="600.3" x2="332.6" y2="600.3" />
<rect class="k" x="326.6" y="503.4" width="5.2" height="6.2" />
<rect class="k" x="326.6" y="578.4" width="5.2" height="6.2" />
<line class="t" x1="329.4" y1="516.6" x2="329.4" y2="531.0" stroke-dasharray="4 1.5"/>
<line class="t" x1="329.4" y1="557.0" x2="329.4" y2="571.5" stroke-dasharray="4 1.5"/>
<circle class="l" cx="355.3" cy="499.1" r="2.7" style="fill:#fff"/>
<circle class="k" cx="355.3" cy="499.1" r="1.2" />
<circle class="l" cx="355.4" cy="589.5" r="2.7" style="fill:#fff"/>
<circle class="k" cx="355.4" cy="589.5" r="1.2" />
<g transform="translate(304.8 500.2) rotate(45)">
<path class="k" d="M-3.6 -2.2 L3.6 -2.2 L3.6 2.2 L-3.6 2.2 Z"/>
<path class="l" d="M-5.4 -3.6 L-3.6 -1 M5.4 -3.6 L3.6 -1 M-5.4 3.6 L-3.6 1 M5.4 3.6 L3.6 1 M0 -4.8 L0 4.8"/>
</g>
<g transform="translate(304.2 587.2) rotate(-45)">
<path class="k" d="M-3.6 -2.2 L3.6 -2.2 L3.6 2.2 L-3.6 2.2 Z"/>
<path class="l" d="M-5.4 -3.6 L-3.6 -1 M5.4 -3.6 L3.6 -1 M-5.4 3.6 L-3.6 1 M5.4 3.6 L3.6 1 M0 -4.8 L0 4.8"/>
</g>
<path class="b" d="M374.2 582.4 L384.2 580.4 L388.2 608 L378.2 610 Z" style="fill:#fff"/>
<path class="b" d="M379.4 581.2 L382.6 609.4" />
<path class="b" d="M374.8 587.8 L387.8 603.8" />
<text class="sm" x="285.4" y="491.4" font-size="7" >a</text>
<text class="sm" x="282.2" y="539.6" font-size="7" >b</text>
<text class="sm2" x="293.8" y="568.6" font-size="7" >c</text>
<text class="sm2" x="345.0" y="536.6" font-size="7" >d</text>
<text class="sm2" x="384.0" y="577.0" font-size="7" >e</text>
<text class="sm2" x="370.0" y="537.6" font-size="7" >f</text>
<text class="tn" x="126.9" y="97.0" font-size="10.6" textLength="5.7" lengthAdjust="spacingAndGlyphs" >13</text>
<text class="tx" x="136.1" y="96.5" font-size="9.5" textLength="30.8" lengthAdjust="spacingAndGlyphs" >测速装置</text>
<line class="ld" x1="126.2" y1="99.8" x2="172.4" y2="99.8" />
<line class="ld" x1="172.4" y1="99.8" x2="311.5" y2="128.0" />
<text class="tn" x="127.8" y="117.8" font-size="10.6" textLength="5.8" lengthAdjust="spacingAndGlyphs" >12</text>
<text class="tx" x="138.9" y="117.2" font-size="9.5" textLength="22.0" lengthAdjust="spacingAndGlyphs" >加料盖</text>
<line class="ld" x1="126.6" y1="120.5" x2="163.8" y2="120.5" />
<line class="ld" x1="163.8" y1="120.5" x2="302.0" y2="139.0" />
<text class="tn" x="127.8" y="144.6" font-size="10.6" textLength="6.7" lengthAdjust="spacingAndGlyphs" >11</text>
<text class="tx" x="137.6" y="144.1" font-size="9.5" textLength="13.9" lengthAdjust="spacingAndGlyphs" >接咀</text>
<line class="ld" x1="126.9" y1="147.6" x2="154.6" y2="147.6" />
<line class="ld" x1="154.6" y1="147.6" x2="267.6" y2="156.5" />
<text class="tn" x="126.9" y="166.0" font-size="10.6" textLength="5.7" lengthAdjust="spacingAndGlyphs" >10</text>
<text class="tx" x="136.0" y="165.4" font-size="9.5" textLength="30.6" lengthAdjust="spacingAndGlyphs" >接咀螺母</text>
<line class="ld" x1="126.3" y1="167.4" x2="167.4" y2="167.4" />
<line class="ld" x1="167.4" y1="167.4" x2="266.0" y2="164.8" />
<text class="tn" x="127.3" y="185.5" font-size="10.6" textLength="2.6" lengthAdjust="spacingAndGlyphs" >9</text>
<text class="tx" x="132.6" y="184.9" font-size="9.5" textLength="23.9" lengthAdjust="spacingAndGlyphs" >针形阀</text>
<line class="ld" x1="126.3" y1="186.3" x2="157.8" y2="186.3" />
<line class="ld" x1="157.8" y1="186.3" x2="247.5" y2="173.2" />
<text class="tn" x="127.0" y="204.3" font-size="10.6" textLength="2.8" lengthAdjust="spacingAndGlyphs" >8</text>
<text class="tx" x="130.7" y="203.8" font-size="9.5" textLength="30.9" lengthAdjust="spacingAndGlyphs" >锁紧螺母</text>
<line class="ld" x1="126.3" y1="205.7" x2="163.5" y2="205.7" />
<line class="ld" x1="163.5" y1="205.7" x2="268.5" y2="192.4" />
<text class="tn" x="127.0" y="224.4" font-size="10.6" textLength="2.8" lengthAdjust="spacingAndGlyphs" >7</text>
<text class="tx" x="130.3" y="223.8" font-size="9.5" textLength="38.8" lengthAdjust="spacingAndGlyphs" >法兰定位销</text>
<line class="ld" x1="126.3" y1="225.9" x2="163.0" y2="225.9" />
<line class="ld" x1="163.0" y1="225.9" x2="268.5" y2="190.8" />
<text class="tn" x="127.0" y="249.0" font-size="10.6" textLength="3.0" lengthAdjust="spacingAndGlyphs" >6</text>
<text class="tx" x="133.2" y="248.4" font-size="9.5" textLength="30.3" lengthAdjust="spacingAndGlyphs" >螺纹法兰</text>
<line class="ld" x1="126.3" y1="250.8" x2="167.2" y2="250.8" />
<line class="ld" x1="167.2" y1="250.8" x2="278.0" y2="196.6" />
<text class="tn" x="127.0" y="271.5" font-size="10.6" textLength="3.0" lengthAdjust="spacingAndGlyphs" >5</text>
<text class="tx" x="132.6" y="270.9" font-size="9.5" textLength="22.0" lengthAdjust="spacingAndGlyphs" >取样管</text>
<line class="ld" x1="126.3" y1="273.4" x2="164.1" y2="273.4" />
<line class="ld" x1="164.1" y1="273.4" x2="279.6" y2="240.7" />
<text class="tn" x="127.0" y="294.2" font-size="10.6" textLength="3.0" lengthAdjust="spacingAndGlyphs" >4</text>
<text class="tx" x="134.5" y="293.6" font-size="9.5" textLength="30.2" lengthAdjust="spacingAndGlyphs" >下搅拌轴</text>
<line class="ld" x1="126.3" y1="295.7" x2="167.2" y2="295.7" />
<line class="ld" x1="167.2" y1="295.7" x2="279.6" y2="249.6" />
<text class="tn" x="127.3" y="317.5" font-size="10.6" textLength="3.4" lengthAdjust="spacingAndGlyphs" >3</text>
<text class="tx" x="133.2" y="316.9" font-size="9.5" textLength="46.0" lengthAdjust="spacingAndGlyphs" >推进式搅拌器</text>
<line class="ld" x1="126.3" y1="318.6" x2="181.0" y2="318.6" />
<line class="ld" x1="181.0" y1="318.6" x2="279.6" y2="262.8" />
<text class="tn" x="129.4" y="351.0" font-size="10.6" textLength="2.6" lengthAdjust="spacingAndGlyphs" >2</text>
<text class="tx" x="135.7" y="350.4" font-size="9.5" textLength="15.2" lengthAdjust="spacingAndGlyphs" >釜体</text>
<line class="ld" x1="126.3" y1="352.4" x2="152.1" y2="352.4" />
<line class="ld" x1="152.1" y1="352.4" x2="292.8" y2="263.4" />
<text class="tn" x="128.4" y="381.8" font-size="10.6" textLength="1.8" lengthAdjust="spacingAndGlyphs" >1</text>
<text class="tx" x="130.7" y="381.2" font-size="9.5" textLength="46.0" lengthAdjust="spacingAndGlyphs" >电加热炉装置</text>
<line class="ld" x1="126.3" y1="382.9" x2="178.0" y2="382.9" />
<line class="ld" x1="178.0" y1="382.9" x2="304.7" y2="263.4" />
<text class="tn" x="425.6" y="65.8" font-size="10.6" textLength="6.6" lengthAdjust="spacingAndGlyphs" >14</text>
<text class="tx" x="438.2" y="65.2" font-size="9.5" textLength="55.1" lengthAdjust="spacingAndGlyphs" >直流伺服电动机</text>
<line class="ld" x1="421.9" y1="67.3" x2="494.4" y2="67.3" />
<line class="ld" x1="421.9" y1="67.3" x2="335.2" y2="91.5" />
<text class="tn" x="428.2" y="91.7" font-size="10.6" textLength="6.8" lengthAdjust="spacingAndGlyphs" >15</text>
<text class="tx" x="439.3" y="91.2" font-size="9.5" textLength="70.0" lengthAdjust="spacingAndGlyphs" >端面磁力耦合传动器</text>
<line class="ld" x1="426.2" y1="92.8" x2="514.0" y2="92.8" />
<line class="ld" x1="426.2" y1="92.8" x2="339.0" y2="128.0" />
<text class="tn" x="429.0" y="109.0" font-size="10.6" textLength="6.7" lengthAdjust="spacingAndGlyphs" >16</text>
<text class="tx" x="438.9" y="108.5" font-size="9.5" textLength="22.7" lengthAdjust="spacingAndGlyphs" >铂电阻</text>
<line class="ld" x1="427.6" y1="110.5" x2="462.8" y2="110.5" />
<line class="ld" x1="427.6" y1="110.5" x2="339.0" y2="155.6" />
<text class="tn" x="433.6" y="127.3" font-size="10.6" textLength="6.6" lengthAdjust="spacingAndGlyphs" >17</text>
<text class="tx" x="443.3" y="126.8" font-size="9.5" textLength="22.7" lengthAdjust="spacingAndGlyphs" >压力表</text>
<line class="ld" x1="432.0" y1="129.4" x2="471.0" y2="129.4" />
<line class="ld" x1="432.0" y1="129.4" x2="409.5" y2="135.2" />
<text class="tn" x="433.6" y="148.7" font-size="10.6" textLength="6.6" lengthAdjust="spacingAndGlyphs" >18</text>
<text class="tx" x="440.8" y="148.2" font-size="9.5" textLength="46.6" lengthAdjust="spacingAndGlyphs" >防爆膜夹持器</text>
<line class="ld" x1="432.0" y1="150.2" x2="488.0" y2="150.2" />
<line class="ld" x1="432.0" y1="150.2" x2="383.0" y2="162.6" />
<text class="tn" x="434.5" y="167.4" font-size="10.6" textLength="6.3" lengthAdjust="spacingAndGlyphs" >19</text>
<text class="tx" x="443.3" y="166.8" font-size="9.5" textLength="30.2" lengthAdjust="spacingAndGlyphs" >正反螺母</text>
<line class="ld" x1="433.2" y1="168.7" x2="474.8" y2="168.7" />
<line class="ld" x1="433.2" y1="168.7" x2="405.5" y2="160.6" />
<text class="tn" x="434.9" y="183.4" font-size="10.6" textLength="6.8" lengthAdjust="spacingAndGlyphs" >20</text>
<text class="tx" x="442.7" y="182.8" font-size="9.5" textLength="39.6" lengthAdjust="spacingAndGlyphs" >压力表弯管</text>
<line class="ld" x1="433.2" y1="184.9" x2="483.0" y2="184.9" />
<line class="ld" x1="433.2" y1="184.9" x2="405.3" y2="171.0" />
<text class="tn" x="434.5" y="196.0" font-size="10.6" textLength="5.7" lengthAdjust="spacingAndGlyphs" >21</text>
<text class="tx" x="444.6" y="195.4" font-size="9.5" textLength="15.1" lengthAdjust="spacingAndGlyphs" >三通</text>
<line class="ld" x1="433.2" y1="196.9" x2="460.9" y2="196.9" />
<line class="ld" x1="433.2" y1="196.9" x2="384.3" y2="177.0" />
<text class="tn" x="433.2" y="217.4" font-size="10.6" textLength="7.6" lengthAdjust="spacingAndGlyphs" >22</text>
<text class="tx" x="441.2" y="216.8" font-size="9.5" textLength="49.3" lengthAdjust="spacingAndGlyphs" >主螺栓, 主螺母</text>
<line class="ld" x1="432.0" y1="218.6" x2="491.2" y2="218.6" />
<line class="ld" x1="432.0" y1="218.6" x2="372.0" y2="186.0" />
<text class="tn" x="433.9" y="234.8" font-size="10.6" textLength="6.9" lengthAdjust="spacingAndGlyphs" >23</text>
<text class="tx" x="443.9" y="234.2" font-size="9.5" textLength="13.9" lengthAdjust="spacingAndGlyphs" >釜盖</text>
<line class="ld" x1="429.4" y1="235.9" x2="459.7" y2="235.9" />
<line class="ld" x1="429.4" y1="235.9" x2="345.0" y2="187.2" />
<text class="tn" x="429.8" y="254.1" font-size="10.6" textLength="7.2" lengthAdjust="spacingAndGlyphs" >24</text>
<text class="tx" x="440.8" y="253.6" font-size="9.5" textLength="29.6" lengthAdjust="spacingAndGlyphs" >测温套管</text>
<line class="ld" x1="428.2" y1="257.4" x2="466.0" y2="257.4" />
<line class="ld" x1="428.2" y1="257.4" x2="337.0" y2="220.8" />
<text class="tn" x="430.3" y="285.2" font-size="10.6" textLength="7.3" lengthAdjust="spacingAndGlyphs" style="fill:#999;stroke:none">25</text>
<text class="tx" x="441.4" y="284.6" font-size="9.5" textLength="37.8" lengthAdjust="spacingAndGlyphs" style="fill:#555;stroke:#555">内冷却盘管</text>
<line class="ld" x1="428.8" y1="287.0" x2="483.0" y2="287.0" />
<line class="ld" x1="428.8" y1="287.0" x2="370.3" y2="260.0" />
<text class="tn" x="429.9" y="315.9" font-size="10.6" textLength="6.8" lengthAdjust="spacingAndGlyphs" >30</text>
<text class="tx" x="440.8" y="315.4" font-size="9.5" textLength="22.7" lengthAdjust="spacingAndGlyphs" >放料阀</text>
<line class="ld" x1="428.2" y1="318.3" x2="464.7" y2="318.3" />
<line class="ld" x1="428.2" y1="318.3" x2="345.0" y2="282.4" />
<text class="tn" x="430.7" y="341.4" font-size="10.6" textLength="7.0" lengthAdjust="spacingAndGlyphs" >31</text>
<text class="tx" x="438.7" y="340.9" font-size="9.5" textLength="31.5" lengthAdjust="spacingAndGlyphs" >立柱组件</text>
<line class="ld" x1="428.9" y1="343.5" x2="471.0" y2="343.5" />
<line class="ld" x1="428.9" y1="343.5" x2="377.0" y2="319.3" />
<text class="tn" x="426.4" y="386.2" font-size="10.6" textLength="7.3" lengthAdjust="spacingAndGlyphs" >32</text>
<text class="tx" x="438.0" y="385.6" font-size="9.5" textLength="15.5" lengthAdjust="spacingAndGlyphs" >底板</text>
<line class="ld" x1="423.6" y1="387.5" x2="454.7" y2="387.5" />
<line class="ld" x1="423.6" y1="387.5" x2="381.8" y2="376.8" />
<text class="tn" x="424.9" y="418.7" font-size="10.6" textLength="6.8" lengthAdjust="spacingAndGlyphs" >33</text>
<text class="tx" x="433.9" y="418.1" font-size="9.5" textLength="14.5" lengthAdjust="spacingAndGlyphs" >底板</text>
<line class="ld" x1="423.2" y1="420.2" x2="450.0" y2="420.2" />
<line class="ld" x1="423.2" y1="420.2" x2="302.4" y2="384.4" />
<text class="tn" x="227.4" y="470.4" font-size="10.6" textLength="6.6" lengthAdjust="spacingAndGlyphs" >28</text>
<text class="tx" x="234.6" y="469.9" font-size="9.5" textLength="33.1" lengthAdjust="spacingAndGlyphs" >梅花手轮</text>
<line class="ld" x1="225.9" y1="472.6" x2="268.7" y2="472.6" />
<line class="ld" x1="268.7" y1="472.6" x2="278.3" y2="489.0" />
<text class="tx" x="175.5" y="492.1" font-size="9.5" textLength="46.1" lengthAdjust="spacingAndGlyphs" >取样(压料)口</text>
<line class="ld" x1="175.0" y1="494.8" x2="243.5" y2="494.8" />
<line class="ld" x1="243.5" y1="494.8" x2="286.0" y2="505.4" />
<text class="tx" x="182.0" y="525.2" font-size="9.5" textLength="38.4" lengthAdjust="spacingAndGlyphs" >冷却水进口</text>
<line class="ld" x1="181.3" y1="528.0" x2="235.5" y2="528.0" />
<line class="ld" x1="235.5" y1="528.0" x2="286.0" y2="540.6" />
<text class="tn" x="183.8" y="551.9" font-size="10.6" textLength="6.6" lengthAdjust="spacingAndGlyphs" >29</text>
<text class="tx" x="191.0" y="551.4" font-size="9.5" textLength="65.9" lengthAdjust="spacingAndGlyphs" >水嘴(0.1-0.25L无)</text>
<line class="ld" x1="182.6" y1="553.9" x2="258.1" y2="553.9" />
<line class="ld" x1="258.1" y1="553.9" x2="275.8" y2="545.0" />
<text class="tx" x="192.1" y="575.0" font-size="9.5" textLength="45.9" lengthAdjust="spacingAndGlyphs" >进气(放空)口</text>
<line class="ld" x1="191.4" y1="578.3" x2="255.6" y2="578.3" />
<line class="ld" x1="255.6" y1="578.3" x2="278.3" y2="591.7" />
<text class="tx" x="246.8" y="623.0" font-size="9.5" textLength="38.2" lengthAdjust="spacingAndGlyphs" >固体进料口</text>
<line class="ld" x1="244.3" y1="625.7" x2="301.0" y2="625.7" />
<line class="ld" x1="301.0" y1="625.7" x2="323.6" y2="565.2" />
<text class="tn" x="280.7" y="472.6" font-size="10.6" textLength="6.6" lengthAdjust="spacingAndGlyphs" >27</text>
<text class="tx" x="288.0" y="472.1" font-size="9.5" textLength="29.9" lengthAdjust="spacingAndGlyphs" >正反螺母</text>
<line class="ld" x1="279.4" y1="474.5" x2="318.5" y2="474.5" />
<line class="ld" x1="318.5" y1="474.5" x2="310.3" y2="492.8" />
<text class="tn" x="347.1" y="465.4" font-size="10.6" textLength="6.8" lengthAdjust="spacingAndGlyphs" >26</text>
<text class="tx" x="359.0" y="464.9" font-size="9.5" textLength="15.1" lengthAdjust="spacingAndGlyphs" >手把</text>
<line class="ld" x1="344.6" y1="467.1" x2="374.8" y2="467.1" />
<line class="ld" x1="344.6" y1="467.1" x2="332.5" y2="476.4" />
<text class="tx" x="400.5" y="503.4" font-size="9.5" textLength="22.7" lengthAdjust="spacingAndGlyphs" >测温口</text>
<line class="ld" x1="399.3" y1="505.9" x2="423.7" y2="505.9" />
<line class="ld" x1="399.3" y1="505.9" x2="341.3" y2="534.4" />
<text class="tx" x="415.1" y="534.9" font-size="9.5" textLength="38.8" lengthAdjust="spacingAndGlyphs" >冷却水出口</text>
<line class="ld" x1="411.9" y1="537.7" x2="455.2" y2="537.7" />
<line class="ld" x1="411.9" y1="537.7" x2="384.2" y2="541.9" />
<text class="tx" x="408.2" y="610.6" font-size="9.5" textLength="61.1" lengthAdjust="spacingAndGlyphs" >爆破片、压力表口</text>
<line class="ld" x1="407.0" y1="613.6" x2="471.8" y2="613.6" />
<line class="ld" x1="407.0" y1="613.6" x2="381.7" y2="587.2" />
</svg>
</body>
</html>
